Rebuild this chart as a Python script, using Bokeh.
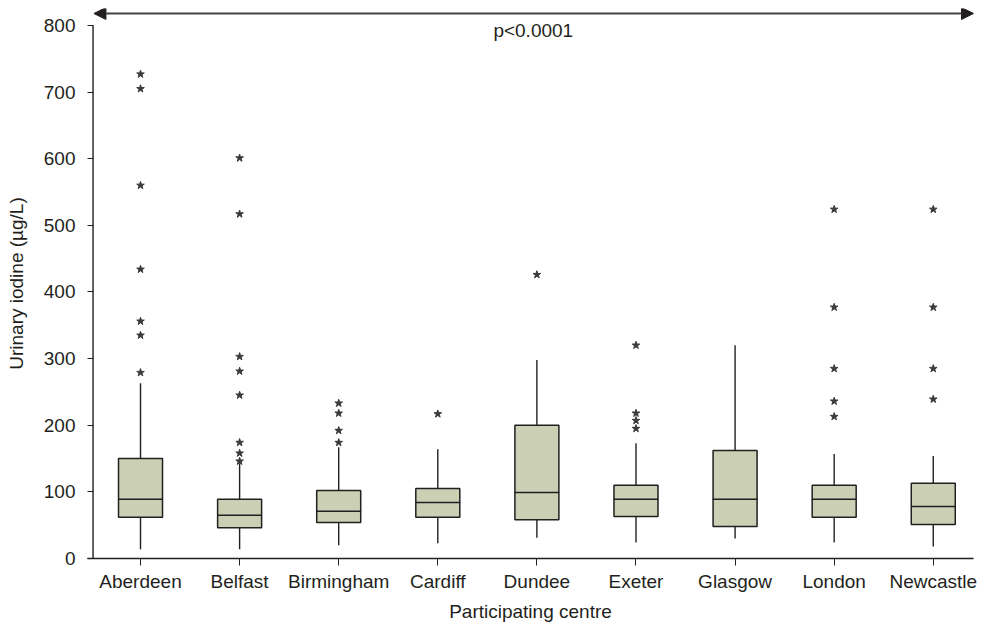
from bokeh.plotting import figure
from bokeh.models import ColumnDataSource, FixedTicker, Arrow, NormalHead
from bokeh.core.properties import value
from bokeh.embed import file_html
from bokeh.resources import INLINE

centres = ["Aberdeen", "Belfast", "Birmingham", "Cardiff", "Dundee",
           "Exeter", "Glasgow", "London", "Newcastle"]
whisker_low = [14, 14, 20, 23, 31, 24, 30, 24, 18]
q1 = [62, 46, 54, 62, 58, 63, 48, 62, 51]
median = [89, 65, 71, 84, 99, 89, 89, 89, 78]
q3 = [150, 89, 102, 105, 200, 110, 162, 110, 113]
whisker_high = [263, 143, 167, 164, 298, 173, 320, 157, 154]
outliers = [
    [727, 705, 560, 434, 356, 335, 279],
    [601, 517, 303, 281, 245, 174, 158, 146],
    [233, 218, 192, 174],
    [217],
    [426],
    [320, 218, 207, 195],
    [],
    [524, 377, 285, 236, 213],
    [524, 377, 285, 239],
]
y_ticks = [0, 100, 200, 300, 400, 500, 600, 700, 800]
p_label = "p<0.0001"

FONT = "Liberation Sans"
TXT = "#231f20"

xpos = list(range(1, len(centres) + 1))
box_src = ColumnDataSource(dict(x=xpos, lo=whisker_low, q1=q1, med=median,
                                q3=q3, hi=whisker_high))
ox, oy = [], []
for i, vals in enumerate(outliers):
    for v in vals:
        ox.append(xpos[i])
        oy.append(v)
out_src = ColumnDataSource(dict(x=ox, y=oy))

x_start, x_end = 0.465, 9.406
y_end = 825.5

p = figure(width=980, height=624, x_range=(x_start, x_end), y_range=(0, y_end),
           output_backend="svg", toolbar_location=None,
           min_border_left=87, min_border_right=7, min_border_top=8,
           min_border_bottom=66)
p.outline_line_color = None
p.grid.visible = False

# whiskers
p.segment(x0="x", x1="x", y0="q3", y1="hi", source=box_src,
          line_color="#231f20", line_width=1.4)
p.segment(x0="x", x1="x", y0="lo", y1="q1", source=box_src,
          line_color="#231f20", line_width=1.4)
# boxes
bw = 0.444
p.vbar(x="x", width=bw, bottom="q1", top="q3", source=box_src,
       fill_color="#cbd0b4", line_color="#231f20", line_width=1.5)
# medians
p.rect(x="x", y="med", width=bw, height=0.01, height_units="data", source=box_src,
       fill_color=None, line_color="#231f20", line_width=1.6)
# outliers
p.scatter(x="x", y="y", source=out_src, marker="star", size=8,
          fill_color="#3a3a3a", line_color="#3a3a3a")

# custom y axis line (0..800)
p.segment(x0=[0.521], x1=[0.521], y0=[y_ticks[0]], y1=[y_ticks[-1]],
          line_color="#231f20", line_width=1.4)

# significance arrow
p.add_layout(Arrow(start=NormalHead(size=12, fill_color="#231f20", line_color="#231f20"),
                   end=NormalHead(size=12, fill_color="#231f20", line_color="#231f20"),
                   x_start=0.53, x_end=x_end, y_start=818, y_end=818,
                   line_color="#444444", line_width=1.8))
p.text(x=[(0.521 + x_end) / 2], y=[793], text=[p_label], text_align="center",
       text_baseline="middle", text_font=value(FONT), text_font_size="19px",
       text_color=TXT)

# x axis
p.xaxis.ticker = FixedTicker(ticks=xpos)
p.xaxis.major_label_overrides = {i: c for i, c in zip(xpos, centres)}
p.xaxis.minor_tick_line_color = None
p.xaxis.major_tick_in = 0
p.xaxis.major_tick_out = 7
p.xaxis.axis_line_width = 1.4
p.xaxis.axis_line_color = "#231f20"
p.xaxis.major_tick_line_color = "#231f20"
p.xaxis.major_label_standoff = 5
p.xaxis.axis_label = "Participating centre"
p.xaxis.axis_label_standoff = 6

# y axis
p.yaxis.ticker = FixedTicker(ticks=y_ticks)
p.yaxis.minor_tick_line_color = None
p.yaxis.axis_line_color = None
p.yaxis.major_tick_in = 6
p.yaxis.major_tick_out = 0
p.yaxis.major_tick_line_color = "#231f20"
p.yaxis.major_label_standoff = 12
p.yaxis.axis_label = "Urinary iodine (µg/L)"
p.yaxis.axis_label_standoff = 14

for ax in (p.xaxis, p.yaxis):
    ax.major_label_text_font = FONT
    ax.major_label_text_font_size = "19px"
    ax.major_label_text_color = TXT
    ax.axis_label_text_font = FONT
    ax.axis_label_text_font_size = "19px"
    ax.axis_label_text_font_style = "normal"
    ax.axis_label_text_color = TXT

open("out.html", "w").write(file_html(p, INLINE))
